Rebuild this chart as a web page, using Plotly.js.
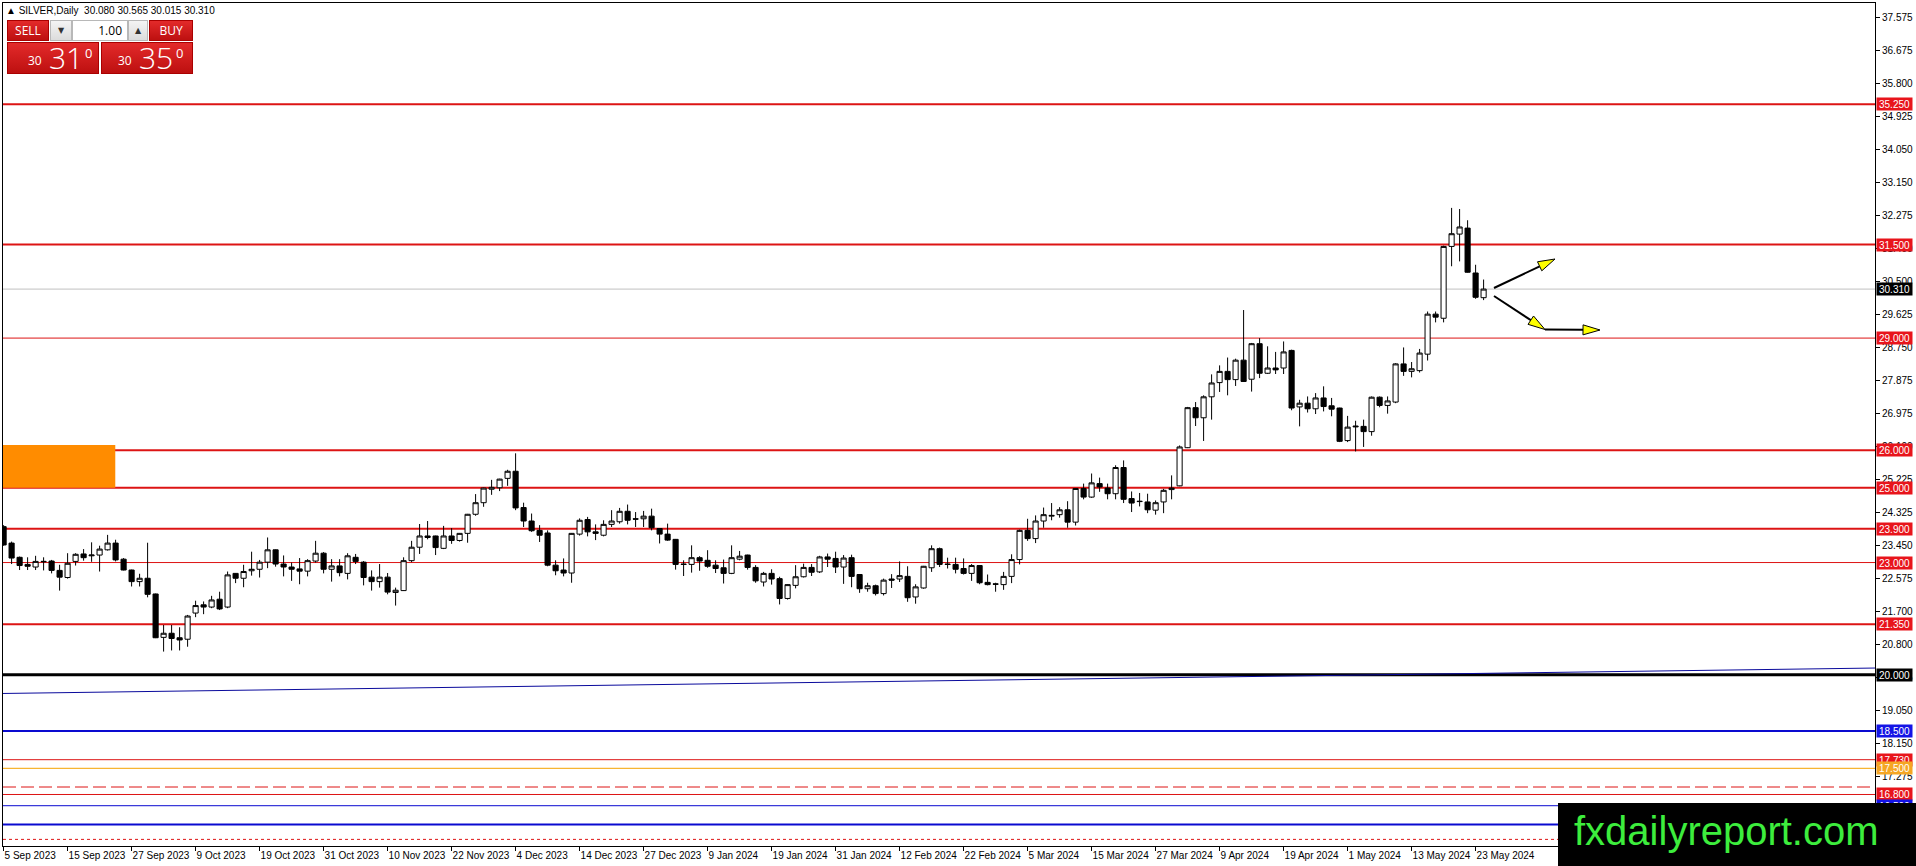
<!DOCTYPE html>
<html>
<head>
<meta charset="utf-8">
<script src="https://cdn.plot.ly/plotly-3.0.1.min.js"></script>
<style>
html, body { margin: 0; padding: 0; background: #fff; }
#wrap { position: relative; width: 1916px; height: 866px; overflow: hidden; }
#chart { position: absolute; left: 0; top: 0; width: 1916px; height: 866px; }
#hdr { position: absolute; left: 6px; top: 5px; font: 10px "Liberation Sans", Arial, sans-serif; color: #000; white-space: pre; }
.box { position: absolute; box-sizing: border-box; }
.red { background: linear-gradient(#e32a2a, #bd1010); color: #fff; border: 1px solid #a00; }
.btn { font: 12px "Open Sans", sans-serif; text-align: center; line-height: 19px; }
.spin { background: linear-gradient(#f4f4f4, #dcdcdc); border: 1px solid #b8b8b8; font: 8px "DejaVu Sans", sans-serif; text-align: center; line-height: 19px; color: #333; }
#lot { background: #fff; border: 1px solid #b8b8b8; font: 12px "Open Sans", sans-serif; text-align: right; padding-right: 5px; line-height: 19px; }
.px { font-family: "Open Sans", sans-serif; }
.px .s { position: absolute; bottom: 4px; font-size: 12px; }
.px .b { position: absolute; bottom: -1px; font-size: 30px; font-weight: 300; line-height: 32px; }
.px .p { position: absolute; top: 1px; font-size: 13px; }
#wm { position: absolute; left: 1558px; top: 803px; width: 358px; height: 63px; background: #000; color: #3ded3d;
      font: 40px "Liberation Sans", Arial, sans-serif; line-height: 56px; padding-left: 16px; box-sizing: border-box; }
</style>
</head>
<body>
<div id="wrap">
  <div id="chart"></div>
  <div id="hdr"></div>
  <div class="box red btn" style="left:7px;top:20px;width:42px;height:21px;">SELL</div>
  <div class="box spin" style="left:50px;top:20px;width:22px;height:21px;">&#9660;</div>
  <div class="box" id="lot" style="left:72px;top:20px;width:56px;height:21px;">1.00</div>
  <div class="box spin" style="left:128px;top:20px;width:20px;height:21px;">&#9650;</div>
  <div class="box red btn" style="left:149px;top:20px;width:44px;height:21px;">BUY</div>
  <div class="box red px" style="left:7px;top:42px;width:92px;height:32px;">
    <span class="s" style="left:20px;">30</span><span class="b" style="left:41px;">31</span><span class="p" style="left:77px;">0</span>
  </div>
  <div class="box red px" style="left:101px;top:42px;width:92px;height:32px;">
    <span class="s" style="left:16px;">30</span><span class="b" style="left:37px;">35</span><span class="p" style="left:74px;">0</span>
  </div>
  <div id="wm">fxdailyreport.com</div>
</div>
<script>
// SILVER daily bars, 5 Sep 2023 .. 24 May 2024
const open = [
  23.96, 23.52, 23.14, 22.95, 22.88, 23.02, 23.04, 22.79, 22.60, 23.03,
  23.23, 23.18, 23.20, 23.34, 23.52, 23.09, 22.80, 22.49, 22.58, 22.16,
  21.00, 21.11, 20.99, 20.95, 21.65, 21.87, 21.81, 22.02, 21.81, 22.71,
  22.58, 22.78, 22.82, 23.01, 23.34, 22.96, 22.88, 22.83, 22.77, 23.04,
  23.25, 22.82, 22.91, 22.71, 23.14, 23.01, 22.61, 22.49, 22.61, 22.20,
  22.25, 23.05, 23.41, 23.71, 23.71, 23.38, 23.71, 23.59, 23.78, 24.29,
  24.60, 24.96, 25.00, 25.25, 25.44, 24.47, 24.11, 23.86, 23.79, 22.93,
  22.80, 22.72, 23.76, 24.15, 23.82, 23.73, 24.02, 24.09, 24.37, 24.17,
  24.17, 24.24, 23.91, 23.76, 23.62, 22.96, 22.95, 23.13, 23.06, 22.93,
  22.86, 22.71, 23.09, 23.20, 22.87, 22.48, 22.71, 22.57, 22.04, 22.39,
  22.62, 22.87, 22.75, 23.15, 23.11, 22.88, 23.13, 22.68, 22.30, 22.38,
  22.17, 22.56, 22.56, 22.63, 22.08, 22.32, 22.86, 23.37, 22.96, 22.95,
  22.84, 22.71, 22.92, 22.47, 22.43, 22.41, 22.63, 23.08, 23.86, 23.64,
  24.11, 24.24, 24.28, 24.41, 24.08, 24.98, 24.75, 25.11, 24.99, 24.84,
  25.54, 24.71, 24.64, 24.62, 24.40, 24.62, 24.95, 25.05, 26.07, 27.14,
  26.87, 27.43, 27.81, 28.11, 27.89, 28.41, 27.90, 28.85, 28.06, 28.20,
  28.20, 28.67, 27.16, 27.26, 27.11, 27.40, 27.19, 27.13, 26.26, 26.65,
  26.64, 26.50, 27.42, 27.20, 27.29, 28.31, 28.11, 28.13, 28.57, 29.64,
  29.53, 31.45, 31.78, 31.94, 30.74, 30.080
];
const high = [
  24.00, 23.56, 23.16, 23.14, 23.18, 23.14, 23.07, 22.94, 23.25, 23.25,
  23.36, 23.54, 23.45, 23.74, 23.61, 23.12, 22.81, 22.70, 23.53, 22.17,
  21.33, 21.33, 21.27, 21.60, 21.98, 21.96, 22.11, 22.22, 22.76, 22.72,
  22.94, 23.29, 23.07, 23.67, 23.35, 23.19, 23.00, 23.12, 23.09, 23.58,
  23.28, 23.09, 23.09, 23.25, 23.23, 23.04, 22.79, 22.96, 22.72, 22.33,
  23.14, 23.58, 24.03, 24.11, 23.72, 23.98, 23.92, 23.79, 24.30, 24.83,
  25.00, 25.21, 25.24, 25.48, 25.92, 24.60, 24.31, 24.00, 23.86, 23.06,
  23.11, 23.79, 24.18, 24.22, 24.02, 24.13, 24.40, 24.46, 24.55, 24.35,
  24.38, 24.44, 23.92, 24.04, 23.63, 23.06, 23.46, 23.17, 23.33, 23.06,
  23.08, 23.46, 23.31, 23.21, 22.93, 22.75, 22.82, 22.62, 22.42, 22.93,
  22.97, 22.96, 23.18, 23.24, 23.29, 23.20, 23.21, 22.69, 22.46, 22.41,
  22.57, 22.69, 23.03, 22.90, 22.42, 22.91, 23.46, 23.40, 23.13, 23.13,
  23.11, 22.96, 22.93, 22.68, 22.46, 22.75, 23.22, 23.88, 24.17, 24.26,
  24.47, 24.59, 24.48, 24.64, 24.99, 25.11, 25.38, 25.27, 25.11, 25.60,
  25.73, 24.90, 24.86, 24.84, 24.66, 24.97, 25.33, 26.13, 27.16, 27.29,
  27.47, 28.03, 28.27, 28.48, 28.45, 29.75, 28.87, 29.00, 28.78, 28.63,
  28.91, 28.69, 27.35, 27.44, 27.53, 27.71, 27.40, 27.14, 26.92, 26.79,
  26.82, 27.44, 27.44, 27.44, 28.33, 28.75, 28.36, 28.71, 29.71, 29.71,
  31.47, 32.48, 32.45, 32.15, 30.96, 30.565
];
const low = [
  23.45, 22.96, 22.80, 22.80, 22.80, 22.79, 22.71, 22.25, 22.57, 22.92,
  23.05, 23.02, 22.76, 23.32, 23.03, 22.79, 22.36, 22.36, 22.07, 20.98,
  20.62, 20.65, 20.65, 20.75, 21.54, 21.62, 21.78, 21.73, 21.78, 22.45,
  22.34, 22.65, 22.60, 22.85, 22.89, 22.63, 22.51, 22.42, 22.63, 23.00,
  22.71, 22.49, 22.63, 22.55, 22.96, 22.39, 22.25, 22.33, 22.15, 21.85,
  22.24, 23.01, 23.23, 23.62, 23.20, 23.36, 23.50, 23.56, 23.53, 24.25,
  24.49, 24.81, 24.91, 25.05, 24.40, 23.95, 23.82, 23.55, 22.90, 22.66,
  22.63, 22.46, 23.72, 23.70, 23.60, 23.70, 23.95, 24.04, 24.02, 23.95,
  23.95, 23.86, 23.51, 23.58, 22.81, 22.64, 22.73, 22.78, 22.86, 22.72,
  22.44, 22.69, 23.06, 22.81, 22.46, 22.36, 22.41, 21.88, 22.01, 22.31,
  22.60, 22.64, 22.72, 22.88, 22.72, 22.43, 22.34, 22.19, 22.22, 22.12,
  22.12, 22.32, 22.48, 21.95, 21.90, 22.30, 22.75, 22.88, 22.84, 22.71,
  22.68, 22.51, 22.42, 22.39, 22.22, 22.27, 22.45, 22.95, 23.58, 23.52,
  23.93, 24.13, 24.20, 23.93, 23.99, 24.69, 24.73, 24.89, 24.69, 24.69,
  24.59, 24.35, 24.50, 24.32, 24.28, 24.32, 24.69, 25.04, 26.06, 26.65,
  26.25, 26.82, 27.56, 27.47, 27.72, 27.83, 27.57, 27.93, 28.04, 28.04,
  28.04, 27.07, 26.64, 27.01, 26.97, 27.04, 26.91, 26.22, 26.22, 25.97,
  26.09, 26.39, 27.15, 26.98, 27.26, 27.99, 27.95, 28.08, 28.40, 29.42,
  29.42, 30.92, 31.05, 30.75, 30.05, 30.015
];
const close = [
  23.47, 23.12, 22.92, 22.90, 23.03, 23.03, 22.79, 22.61, 22.98, 23.22,
  23.13, 23.20, 23.36, 23.52, 23.07, 22.80, 22.49, 22.58, 22.15, 20.99,
  21.11, 20.97, 20.93, 21.57, 21.85, 21.81, 22.00, 21.76, 22.67, 22.58,
  22.76, 22.82, 23.01, 23.34, 22.96, 22.88, 22.82, 22.77, 23.05, 23.25,
  22.82, 22.91, 22.73, 23.18, 23.03, 22.60, 22.49, 22.61, 22.21, 22.26,
  23.05, 23.41, 23.71, 23.67, 23.40, 23.71, 23.59, 23.78, 24.29, 24.60,
  24.99, 25.01, 25.23, 25.44, 24.46, 24.11, 23.85, 23.73, 22.93, 22.78,
  22.72, 23.78, 24.13, 23.82, 23.78, 24.02, 24.11, 24.37, 24.13, 24.16,
  24.24, 23.93, 23.76, 23.60, 22.95, 22.95, 23.13, 23.04, 22.90, 22.84,
  22.71, 23.13, 23.17, 22.87, 22.51, 22.71, 22.56, 22.04, 22.41, 22.62,
  22.87, 22.74, 23.15, 23.09, 22.88, 23.12, 22.63, 22.30, 22.38, 22.17,
  22.53, 22.53, 22.65, 22.06, 22.35, 22.90, 23.37, 22.95, 22.95, 22.82,
  22.71, 22.92, 22.46, 22.41, 22.42, 22.63, 23.08, 23.86, 23.64, 24.11,
  24.28, 24.26, 24.41, 24.08, 24.98, 24.75, 25.13, 25.02, 24.84, 25.54,
  24.69, 24.59, 24.63, 24.41, 24.60, 24.93, 24.99, 26.09, 27.14, 26.87,
  27.43, 27.80, 28.11, 27.89, 28.41, 27.84, 28.85, 28.06, 28.20, 28.15,
  28.63, 27.13, 27.26, 27.11, 27.40, 27.17, 27.10, 26.24, 26.62, 26.63,
  26.50, 27.42, 27.20, 27.32, 28.31, 28.11, 28.18, 28.60, 29.64, 29.56,
  31.45, 31.79, 31.97, 30.76, 30.09, 30.310
];

// one label every 8 bars
const dateLabels = [
  '5 Sep 2023', '15 Sep 2023', '27 Sep 2023', '9 Oct 2023', '19 Oct 2023', '31 Oct 2023',
  '10 Nov 2023', '22 Nov 2023', '4 Dec 2023', '14 Dec 2023', '27 Dec 2023', '9 Jan 2024',
  '19 Jan 2024', '31 Jan 2024', '12 Feb 2024', '22 Feb 2024', '5 Mar 2024', '15 Mar 2024',
  '27 Mar 2024', '9 Apr 2024', '19 Apr 2024', '1 May 2024', '13 May 2024', '23 May 2024'
];
const priceTicks = [37.575, 36.675, 35.800, 34.925, 34.050, 33.150, 32.275, 31.400, 30.500,
  29.625, 28.750, 27.875, 26.975, 26.100, 25.225, 24.325, 23.450, 22.575, 21.700, 20.800,
  19.925, 19.050, 18.150, 17.275, 16.400];

// horizontal levels
const levels      = [35.25, 31.5, 29.0, 26.0, 25.0, 23.9, 23.0, 21.35, 20.0, 18.5, 17.73, 17.5, 17.0, 16.8, 16.5, 16.0, 15.6];
const levelKind   = ['r', 'r', 'r', 'r', 'r', 'r', 'r', 'r', 'k', 'b', 'r', 'o', 'r', 'r', 'b', 'b', 'r'];
const levelWidth  = [2, 2, 1, 2, 2, 2, 1, 2, 3, 2, 1, 1, 1, 1, 1, 2, 1];
const levelDash   = ['solid', 'solid', 'solid', 'solid', 'solid', 'solid', 'solid', 'solid', 'solid',
                     'solid', 'solid', 'solid', '13px,5px', 'solid', 'solid', 'solid', 'dot'];
const levelTagged = [1, 1, 1, 1, 1, 1, 1, 1, 1, 1, 1, 1, 0, 1, 1, 1, 0];
const lastPrice = 30.31;

// orange zone and blue trend line
const zone = {x0: -0.075, x1: 13.96, y0: 25.0, y1: 26.14};
const trendX = [-0.075, 233.925];
const trendY = [19.50, 20.18];

const lineCol = {r: '#dd1414', k: '#000000', b: '#0a0ad0', o: '#f5a300'};
const tagCol  = {r: '#e8141b', k: '#000000', b: '#1414e6', o: '#f5a623'};

const bars = open.map((_, i) => i);

// pixel helpers for the drawn arrows
const X0 = -0.075, PXW = 8, Y0 = 37.957, PYH = 37.41, ML = 3, MT = 3;
const dx = px => X0 + (px - ML) / PXW;
const dy = py => Y0 - (py - MT) / PYH;

function arrow(tx, ty, hx, hy) {
  const L = Math.hypot(hx - tx, hy - ty);
  const ux = (hx - tx) / L, uy = (hy - ty) / L;
  const len = 17, w = 5;
  const bx = hx - ux * len, by = hy - uy * len;
  const c1 = [bx - uy * w, by + ux * w], c2 = [bx + uy * w, by - ux * w];
  return [
    {type: 'line', xref: 'x', yref: 'y', x0: dx(tx), y0: dy(ty), x1: dx(bx), y1: dy(by),
     line: {color: '#000', width: 2}},
    {type: 'path', xref: 'x', yref: 'y', fillcolor: '#ffff00', line: {color: '#000', width: 1},
     path: 'M' + dx(hx) + ',' + dy(hy) + ' L' + dx(c1[0]) + ',' + dy(c1[1]) +
           ' L' + dx(c2[0]) + ',' + dy(c2[1]) + ' Z'}
  ];
}

document.getElementById('hdr').textContent = '\u25B2 SILVER,Daily  ' +
  [open, high, low, close].map(a => a[a.length - 1].toFixed(3)).join(' ');

const shapes = [
  {type: 'rect', xref: 'x', yref: 'y', layer: 'below', x0: zone.x0, x1: zone.x1, y0: zone.y0, y1: zone.y1,
   fillcolor: '#ff8c00', line: {width: 0}},
  {type: 'line', xref: 'paper', yref: 'y', layer: 'below', x0: 0, x1: 1, y0: lastPrice, y1: lastPrice,
   line: {color: '#c0c0c0', width: 1}}
];
levels.forEach((v, i) => {
  shapes.push({type: 'line', xref: 'paper', yref: 'y', layer: 'below', x0: 0, x1: 1, y0: v, y1: v,
    line: {color: lineCol[levelKind[i]], width: levelWidth[i], dash: levelDash[i]}});
});
shapes.push(...arrow(1494, 288, 1555, 259));
shapes.push(...arrow(1494, 296, 1545, 329.5));
shapes.push(...arrow(1545, 329.5, 1600, 330));

const annotations = [];
levels.forEach((v, i) => {
  if (!levelTagged[i]) return;
  annotations.push({xref: 'paper', yref: 'y', x: 1, y: v, xanchor: 'left', yanchor: 'middle', xshift: 1,
    text: v.toFixed(3), showarrow: false, bgcolor: tagCol[levelKind[i]], width: 35, height: 12,
    borderpad: 0, font: {family: 'Liberation Sans, Arial, sans-serif', size: 10, color: '#fff'}});
});
annotations.push({xref: 'paper', yref: 'y', x: 1, y: lastPrice, xanchor: 'left', yanchor: 'middle', xshift: 1,
  text: lastPrice.toFixed(3), showarrow: false, bgcolor: '#000', width: 35, height: 12, borderpad: 0,
  font: {family: 'Liberation Sans, Arial, sans-serif', size: 10, color: '#fff'}});

const candles = {
  type: 'candlestick',
  x: bars, open: open, high: high, low: low, close: close,
  increasing: {line: {color: '#000', width: 1}, fillcolor: '#ffffff'},
  decreasing: {line: {color: '#000', width: 1}, fillcolor: '#000000'},
  whiskerwidth: 0,
  hoverinfo: 'skip'
};
const trend = {
  type: 'scatter', mode: 'lines', x: trendX, y: trendY,
  line: {color: '#0a0a9c', width: 1}, hoverinfo: 'skip'
};

const layout = {
  width: 1916, height: 866,
  margin: {l: ML, r: 41, t: MT, b: 20},
  paper_bgcolor: '#fff', plot_bgcolor: '#fff',
  showlegend: false, hovermode: false,
  boxgap: 0.2, boxgroupgap: 0.2,
  xaxis: {
    range: [X0, 233.925], rangeslider: {visible: false},
    tickvals: dateLabels.map((_, i) => i * 8), ticktext: dateLabels,
    ticks: 'outside', ticklen: 4, tickcolor: '#000', ticklabelposition: 'outside right',
    tickangle: 0, automargin: false,
    tickfont: {family: 'Liberation Sans, Arial, sans-serif', size: 10, color: '#000'},
    showgrid: false, zeroline: false, showline: true, mirror: true, linecolor: '#000', linewidth: 1
  },
  yaxis: {
    side: 'right', range: [15.423, Y0], automargin: false,
    tickvals: priceTicks, ticktext: priceTicks.map(v => v.toFixed(3)),
    ticks: 'outside', ticklen: 4, tickcolor: '#000',
    tickfont: {family: 'Liberation Sans, Arial, sans-serif', size: 10, color: '#000'},
    showgrid: false, zeroline: false, showline: true, mirror: true, linecolor: '#000', linewidth: 1
  },
  shapes: shapes,
  annotations: annotations
};

Plotly.newPlot('chart', [trend, candles], layout, {displayModeBar: false, staticPlot: true});
</script>
</body>
</html>
